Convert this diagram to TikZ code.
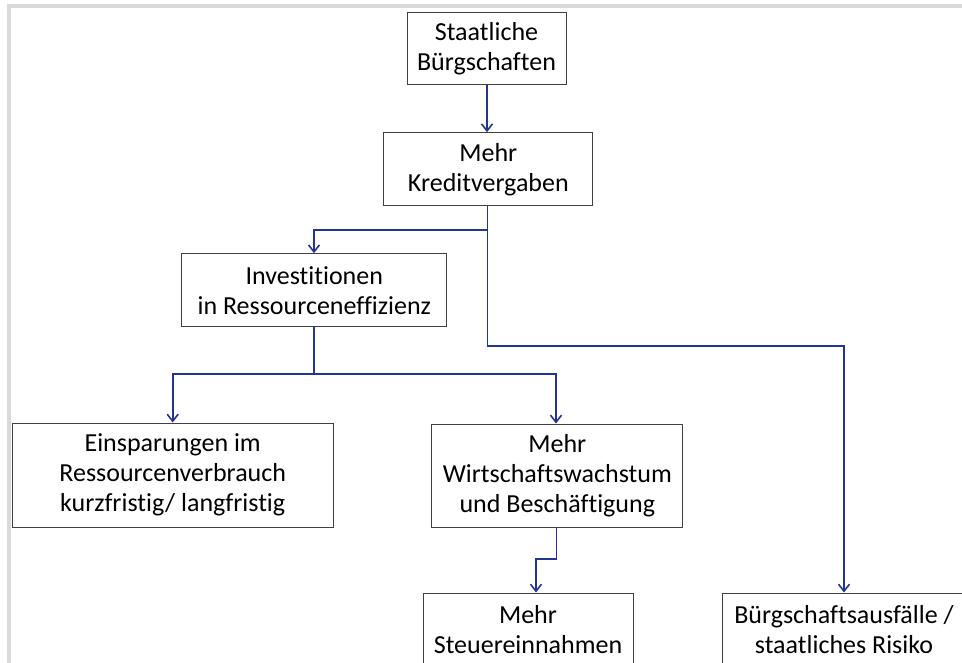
\documentclass[tikz,border=0pt]{standalone}
\usepackage{fontspec}
\setmainfont{Carlito}[Ligatures=NoCommon]
\usetikzlibrary{arrows.meta}
\definecolor{linkblue}{RGB}{36,52,146}
\definecolor{boxgray}{RGB}{64,64,64}
\definecolor{framegray}{RGB}{217,217,217}
\tikzset{
  box/.style={draw=boxgray, line width=1pt, fill=white, inner sep=0pt, align=center,
    font=\fontsize{26}{30}\selectfont},
  link/.style={draw=linkblue, line width=1.8pt},
  arr/.style={link, -{Straight Barb[length=7pt,width=11pt,line width=1.6pt]}}
}
\begin{document}
\begin{tikzpicture}[x=1pt,y=-1pt]
\useasboundingbox (0,0) rectangle (962,663);
\clip (0,0) rectangle (962,663);
\fill[framegray] (7,4) rectangle (962,8);
\fill[framegray] (7,4) rectangle (11,663);

\node[box, minimum width=159pt, minimum height=71.5pt] (b1) at (486.5,48.3) {Staatliche\\Bürgschaften};
\node[box, minimum width=208.7pt, minimum height=73.3pt] (b2) at (488.3,169.3) {Mehr\\Kreditvergaben};
\node[box, minimum width=264.7pt, minimum height=73pt] (b3) at (314.3,290.2) {Investitionen\\in Ressourceneffizienz};
\node[box, minimum width=320.7pt, minimum height=104pt] (b4) at (172.7,475) {Einsparungen im\\Ressourcenverbrauch\\kurzfristig/ langfristig};
\node[box, minimum width=250.7pt, minimum height=103pt] (b5) at (557.3,475.5) {Mehr\\Wirtschaftswachstum\\und Beschäftigung};
\node[box, minimum width=210pt, minimum height=73pt] (b6) at (528,629.5) {Mehr\\Steuereinnahmen};
\node[box, minimum width=244pt, minimum height=73pt] (b7) at (844,629.5) {Bürgschaftsausfälle /\\staatliches Risiko};

\coordinate (s2) at (487.5,206);
\coordinate (j1) at (487.5,230);
\coordinate (j2) at (487.5,345.7);
\coordinate (s3) at (314,326.7);
\coordinate (j3) at (314,374);
\coordinate (s5) at (556.5,527);
\coordinate (j4) at (556.5,559);
\coordinate (j5) at (536,559);

\draw[arr] (b1.south -| 487,0) -- (b2.north -| 487,0);
\draw[arr] (s2) -- (j1) -| (b3.north -| 314,0);
\draw[arr] (j1) -- (j2) -| (b7.north);
\draw[arr] (s3) -- (j3) -| (b4.north);
\draw[arr] (j3) -| (b5.north -| 556,0);
\draw[arr] (s5) -- (j4) -- (j5) -- (b6.north -| j5);
\end{tikzpicture}
\end{document}
